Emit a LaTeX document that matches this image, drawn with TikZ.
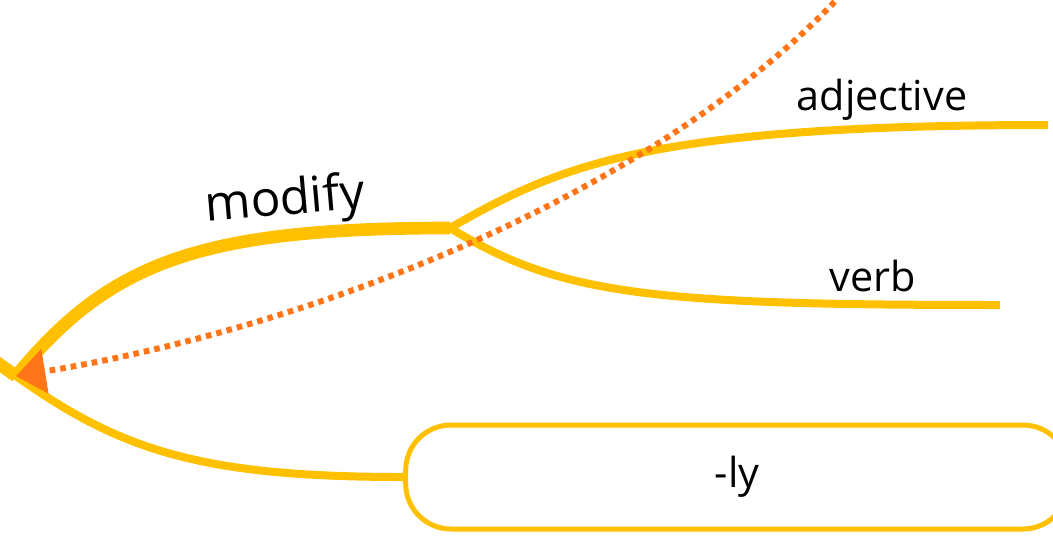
\documentclass[tikz,border=0pt]{standalone}
\usepackage{fontspec}
\setmainfont{Open Sans}
\usetikzlibrary{arrows.meta}
\definecolor{branch}{HTML}{FFC000}
\definecolor{relation}{HTML}{FF7518}
\tikzstyle{mainbranch}=[
	draw=branch,
	line width=9.5pt
]
\tikzstyle{subbranch}=[
	draw=branch,
	line width=6pt
]
\tikzstyle{topic}=[
	inner sep=0pt,
	font=\fontsize{31}{37}\selectfont
]
\tikzstyle{leaf}=[
	rectangle,
	rounded corners=34pt,
	draw=branch,
	line width=3.75pt,
	minimum width=497pt,
	minimum height=78pt,
	font=\fontsize{31}{37}\selectfont
]
\tikzstyle{relationline}=[
	draw=relation,
	line width=4.5pt,
	dash pattern=on 4.2pt off 3.8pt,
	-{Triangle[length=22pt,width=33pt,fill=relation]}
]

\begin{document}
\begin{tikzpicture}[x=0.75pt,y=-0.75pt]
\useasboundingbox (0,0) rectangle (1053,547);
\coordinate (parent) at (-12,356);
\coordinate (root) at (16,376);
\coordinate (fork) at (450,228);
\coordinate (adjend) at (1048,125);
\coordinate (verbend) at (1000,305);
\coordinate (far) at (842,-6);
\node [leaf] (ly) at (737,477) {-ly};
\node [topic, rotate=5] (modify) at (285,202) {\fontsize{37}{44}\selectfont modify};
\node [topic] (adjective) at (882,100) {adjective};
\node [topic] (verb) at (873,276) {verb};
\draw [mainbranch] (parent) -- (root);
\draw [mainbranch] (root) .. controls (110,262) and (200,228) .. (fork);
\draw [subbranch] (fork) .. controls (560,165) and (650,125) .. (adjend);
\draw [subbranch] (fork) .. controls (560,295) and (650,305) .. (verbend);
\draw [subbranch] (root) .. controls (120,450) and (200,477) .. (ly.west);
\draw [relationline] (far) .. controls (650,200) and (300,330) .. (root);
\end{tikzpicture}
\end{document}
